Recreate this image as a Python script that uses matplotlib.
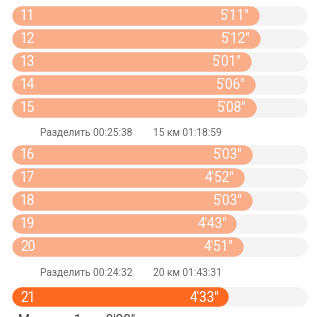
import matplotlib
matplotlib.use("Agg")
import matplotlib.pyplot as plt

# данные по километрам
km_a = [11, 12, 13, 14, 15]
pace_a = [311, 312, 301, 306, 308]        # секунды
km_b = [16, 17, 18, 19, 20]
pace_b = [303, 292, 303, 283, 291]
km_c = [21]
pace_c = [273]
splits = [("Разделить 00:25:38", "15 км 01:18:59"),
          ("Разделить 00:24:32", "20 км 01:43:31")]
max_text = "Макс на 1 км 0'30\""
PACE_MAX = 372

W = H = 317
plt.rcParams['font.family'] = ['Roboto', 'DejaVu Sans']
fig = plt.figure(figsize=(W / 100, H / 100), dpi=100)
ax = fig.add_axes([0, 0, 1, 1])
ax.set_axis_off()

x0, x1 = 12, 308
k = (x1 - x0) / PACE_MAX          # px на секунду
ax.set_xlim(-x0 / k, (W - x0) / k)
ax.set_ylim(H, 0)

bar_h = 19.5
lw = bar_h * 72 / 100
r = bar_h / 2 / k

def fmt(s):
    return f"{s // 60}'{s % 60:02d}\""

def row(y, km, pace, color):
    ax.plot([r, PACE_MAX - r], [y, y], color='#F4F4F4', lw=lw,
            solid_capstyle='round')
    ax.plot([r, pace - r], [y, y], color=color, lw=lw,
            solid_capstyle='round')
    ax.text(8 / k, y + 0.5, str(km), color='white', fontsize=9.8,
            va='center', ha='left')
    ax.text(pace - 10 / k, y + 0.5, fmt(pace), color='white', fontsize=9.8,
            va='center', ha='right')

light, dark = '#F9AD89', '#FE6A22'
for i, (km, p) in enumerate(zip(km_a, pace_a)):
    row(15.5 + i * 23, km, p, light)
for i, (km, p) in enumerate(zip(km_b, pace_b)):
    row(154.5 + i * 23, km, p, light)
for km, p in zip(km_c, pace_c):
    row(297, km, p, dark)

for y, (a, b) in zip([132.5, 272.5], splits):
    ax.text((40 - x0) / k, y, a, color='#666666', fontsize=7.3,
            va='center', ha='left')
    ax.text((153 - x0) / k, y, b, color='#666666', fontsize=7.3,
            va='center', ha='left')

# нижний блок (обрезан краем, как в оригинале)
ax.plot([r, PACE_MAX - r], [323, 323], color='#F4F4F4', lw=lw,
        solid_capstyle='round')
ax.text((18 - x0) / k, 321, max_text, color='#444444', fontsize=9.8,
        va='center', ha='left')

fig.savefig('out.png', dpi=100, facecolor='white')
